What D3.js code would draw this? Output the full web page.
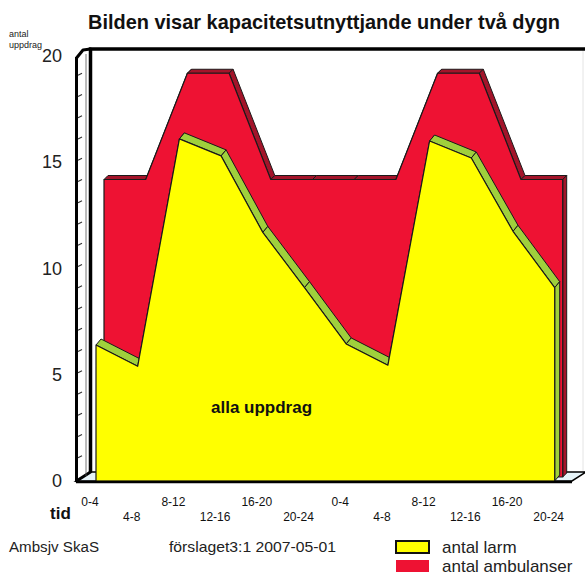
<!DOCTYPE html>
<html>
<head>
<meta charset="utf-8">
<script src="https://cdn.jsdelivr.net/npm/d3@7"></script>
<style>
  body { margin: 0; background: #fff; }
  text { font-family: "Liberation Sans", Arial, sans-serif; }
</style>
</head>
<body>
<script>
// two days, four hour blocks
var periods = ['0-4', '4-8', '8-12', '12-16', '16-20', '20-24', '0-4', '4-8', '8-12', '12-16', '16-20', '20-24'];
var larm = [6.4, 5.4, 16.1, 15.3, 11.7, 9.1, 6.45, 5.45, 16.0, 15.2, 11.75, 9.1];
var ambulanser = [14, 14, 19, 19, 14, 14, 14, 14, 19, 19, 14, 14];
var yTicks = [0, 5, 10, 15, 20];

var width = 585, height = 578;

var svg = d3.select('body').append('svg')
  .attr('width', width)
  .attr('height', height);

var x = d3.scaleLinear().domain([0, periods.length - 1]).range([91, 91 + 11 * 41.7]);
var y = d3.scaleLinear().domain([0, 20]).range([481, 56]);

// 3d depth of the walls
var wallDepth = [14, -9];
var line = d3.line();

function shift(p, d) { return [p[0] + d[0], p[1] + d[1]]; }

svg.append('line')
  .attr('x1', 583).attr('x2', 583)
  .attr('y1', 49).attr('y2', 472)
  .attr('stroke', '#e4e4e4');

// floor
svg.append('path')
  .attr('d', line([[76, y(0)], [572, y(0)], shift([572, y(0)], wallDepth), shift([76, y(0)], wallDepth)]) + 'Z')
  .attr('fill', '#e6f3f8')
  .attr('stroke', '#000')
  .attr('stroke-width', 1.5);

// left wall
svg.append('path')
  .attr('d', line([[76.5, y(0)], [76.5, y(20) + 2], [83, y(20) - 6], [90.5, y(20) + wallDepth[1] + 2], [90.5, y(0) + wallDepth[1]]]) + 'Z')
  .attr('fill', '#fff')
  .attr('stroke', '#000')
  .attr('stroke-width', 3)
  .attr('stroke-linejoin', 'round');

svg.append('line')
  .attr('x1', 86).attr('x2', 86)
  .attr('y1', y(20) - 2).attr('y2', y(0) - 5)
  .attr('stroke', '#555')
  .attr('stroke-width', 0.8);

// back wall edges, drawn over the side wall
svg.append('path')
  .attr('d', line([[90.5, y(0) + wallDepth[1]], [90.5, y(20) + wallDepth[1] + 2], [586, y(20) + wallDepth[1] + 2]]))
  .attr('fill', 'none')
  .attr('stroke', '#000')
  .attr('stroke-width', 3.5);

svg.append('line')
  .attr('x1', 76.5).attr('x2', 76.5)
  .attr('y1', y(20) + 1).attr('y2', y(0) + 1)
  .attr('stroke', '#000')
  .attr('stroke-width', 3);

// small ticks on the wall
svg.selectAll('.minor')
  .data(d3.range(1, 20))
  .enter().append('line')
  .attr('class', 'minor')
  .attr('x1', 78).attr('x2', 82)
  .attr('y1', function(d) { return y(d) - 2; })
  .attr('y2', function(d) { return y(d) - 4; })
  .attr('stroke', '#333')
  .attr('stroke-width', 1.2);

// y labels
svg.selectAll('.ylab')
  .data(yTicks)
  .enter().append('text')
  .attr('class', 'ylab')
  .attr('x', 62)
  .attr('y', function(d) { return y(d) + 6; })
  .attr('text-anchor', 'end')
  .attr('font-size', 18)
  .attr('fill', '#222')
  .text(function(d) { return d; });

function drawSeries(values, off, depth, faceColor, topColor) {
  var n = values.length;
  var front = values.map(function(v, i) { return [x(i) + off[0], y(v) + off[1]]; });
  var base = values.map(function(v, i) { return [x(i) + off[0], y(0) + off[1]]; });
  var back = front.map(function(p) { return shift(p, depth); });
  var g = svg.append('g');

  // top surface, one piece per segment
  for (var i = 0; i < n - 1; i++) {
    g.append('path')
      .attr('d', line([front[i], front[i + 1], back[i + 1], back[i]]) + 'Z')
      .attr('fill', topColor)
      .attr('stroke', '#1a1a1a')
      .attr('stroke-width', 1)
      .attr('stroke-linejoin', 'round');
  }

  // right end
  g.append('path')
    .attr('d', line([front[n - 1], base[n - 1], shift(base[n - 1], depth), back[n - 1]]) + 'Z')
    .attr('fill', topColor)
    .attr('stroke', '#1a1a1a')
    .attr('stroke-width', 1);

  g.append('path')
    .attr('d', line([base[0]].concat(front, [base[n - 1]])) + 'Z')
    .attr('fill', faceColor)
    .attr('stroke', '#1a1a1a')
    .attr('stroke-width', 1.2)
    .attr('stroke-linejoin', 'round');
}

drawSeries(ambulanser, [13, -4], [4, -4], '#ee1233', '#a3142a');
drawSeries(larm, [5, 0], [5, -6], '#ffff00', '#9fd03c');

// front edge of floor
svg.append('line')
  .attr('x1', 76).attr('x2', 572)
  .attr('y1', y(0) + 1).attr('y2', y(0) + 1)
  .attr('stroke', '#000')
  .attr('stroke-width', 2.5);

svg.append('text')
  .attr('x', 211).attr('y', 413)
  .attr('font-size', 17)
  .attr('font-weight', 'bold')
  .attr('fill', '#111')
  .text('alla uppdrag');

// x labels, two rows
svg.selectAll('.xlab')
  .data(periods)
  .enter().append('text')
  .attr('class', 'xlab')
  .attr('x', function(d, i) { return x(i) - 1; })
  .attr('y', function(d, i) { return i % 2 === 0 ? 506 : 521; })
  .attr('text-anchor', 'middle')
  .attr('font-size', 12)
  .attr('fill', '#111')
  .text(function(d) { return d; });

svg.append('text')
  .attr('x', 50).attr('y', 519)
  .attr('font-size', 17)
  .attr('font-weight', 'bold')
  .attr('fill', '#111')
  .text('tid');

// title and axis name
svg.append('text')
  .attr('x', 88).attr('y', 29)
  .attr('font-size', 21)
  .attr('font-weight', 'bold')
  .attr('fill', '#111')
  .attr('textLength', 472)
  .attr('lengthAdjust', 'spacingAndGlyphs')
  .text('Bilden visar kapacitetsutnyttjande under två dygn');

svg.append('text')
  .attr('x', 9).attr('y', 37)
  .attr('font-size', 9)
  .attr('fill', '#222')
  .text('antal');

svg.append('text')
  .attr('x', 9).attr('y', 48)
  .attr('font-size', 9)
  .attr('fill', '#222')
  .text('uppdrag');

// footer
svg.append('text')
  .attr('x', 9).attr('y', 552)
  .attr('font-size', 14)
  .attr('fill', '#222')
  .attr('textLength', 90)
  .attr('lengthAdjust', 'spacingAndGlyphs')
  .text('Ambsjv SkaS');

svg.append('text')
  .attr('x', 169).attr('y', 552)
  .attr('font-size', 15)
  .attr('fill', '#222')
  .attr('textLength', 167)
  .attr('lengthAdjust', 'spacingAndGlyphs')
  .text('förslaget3:1  2007-05-01');

// legend
var legend = [
  { label: 'antal larm', color: '#ffff00', border: '#111' },
  { label: 'antal ambulanser', color: '#ee1233', border: 'none' }
];

var lg = svg.selectAll('.legend')
  .data(legend)
  .enter().append('g')
  .attr('class', 'legend')
  .attr('transform', function(d, i) { return 'translate(396,' + (541 + i * 19) + ')'; });

lg.append('rect')
  .attr('width', 33)
  .attr('height', 12)
  .attr('fill', function(d) { return d.color; })
  .attr('stroke', function(d) { return d.border; })
  .attr('stroke-width', 2);

lg.append('text')
  .attr('x', 46)
  .attr('y', 12)
  .attr('font-size', 17)
  .attr('fill', '#222')
  .text(function(d) { return d.label; });
</script>
</body>
</html>
